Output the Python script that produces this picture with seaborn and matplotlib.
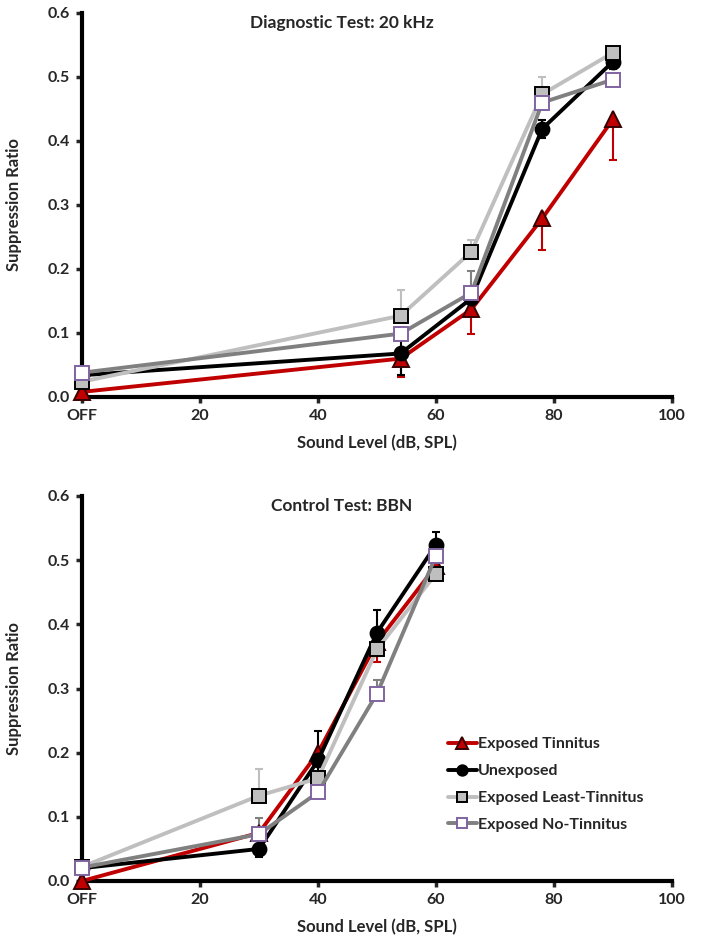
import numpy as np
import pandas as pd
import seaborn as sns
import matplotlib
matplotlib.use("Agg")
import matplotlib.pyplot as plt
import matplotlib.ticker as ticker

# ---- data ----
series_names = ["Exposed Tinnitus", "Unexposed", "Exposed Least-Tinnitus", "Exposed No-Tinnitus"]

# Diagnostic test: 20 kHz
top_levels = [0, 54, 66, 78, 90]
top_tinnitus = [0.008, 0.060, 0.137, 0.279, 0.434]
top_unexposed = [0.034, 0.068, 0.154, 0.419, 0.524]
top_least = [0.024, 0.127, 0.227, 0.473, 0.538]
top_none = [0.038, 0.099, 0.163, 0.460, 0.496]
top_tinnitus_err = [0.0, 0.028, 0.039, 0.049, 0.064]
top_unexposed_err = [0.004, 0.033, 0.008, 0.014, 0.012]
top_least_err = [0.004, 0.040, 0.018, 0.027, 0.004]
top_none_err = [0.004, 0.008, 0.034, 0.010, 0.006]

# Control test: BBN
bot_levels = [0, 30, 40, 50, 60]
bot_tinnitus = [0.000, 0.075, 0.200, 0.372, 0.491]
bot_unexposed = [0.020, 0.050, 0.188, 0.387, 0.524]
bot_least = [0.022, 0.133, 0.160, 0.361, 0.479]
bot_none = [0.021, 0.073, 0.138, 0.292, 0.507]
bot_tinnitus_err = [0.0, 0.005, 0.010, 0.031, 0.008]
bot_unexposed_err = [0.004, 0.012, 0.045, 0.036, 0.020]
bot_least_err = [0.004, 0.041, 0.010, 0.010, 0.006]
bot_none_err = [0.010, 0.025, 0.010, 0.022, 0.006]

x_ticks = [0, 20, 40, 60, 80, 100]
x_ticklabels = ["OFF", "20", "40", "60", "80", "100"]

# ---- styling ----
sns.set_style("white")
plt.rcParams["font.family"] = ["Lato", "DejaVu Sans"]
plt.rcParams["font.weight"] = "bold"

styles = {
    "Exposed Tinnitus": dict(color="#C00000", marker="^", mfc="#C00000", mec="#3a0000", ms=11, side="lower"),
    "Unexposed": dict(color="#000000", marker="o", mfc="#000000", mec="#000000", ms=10, side="both"),
    "Exposed Least-Tinnitus": dict(color="#BFBFBF", marker="s", mfc="#BFBFBF", mec="#000000", ms=10, side="upper"),
    "Exposed No-Tinnitus": dict(color="#808080", marker="s", mfc="#FFFFFF", mec="#8064A2", ms=10, side="upper"),
}


def draw_panel(ax, levels, values, errors, title):
    for name in series_names:
        st = styles[name]
        df = pd.DataFrame({"level": levels, "ratio": values[name]})
        err = np.array(errors[name])
        zero = np.zeros_like(err)
        if st["side"] == "lower":
            yerr = [err, zero]
        elif st["side"] == "upper":
            yerr = [zero, err]
        else:
            yerr = [err, err]
        ax.errorbar(levels, values[name], yerr=yerr, fmt="none", ecolor=st["color"],
                    elinewidth=1.5, capsize=3, capthick=1.5, zorder=2)
        sns.lineplot(data=df, x="level", y="ratio", ax=ax, color=st["color"], lw=2.8,
                     marker=st["marker"], markersize=st["ms"], markerfacecolor=st["mfc"],
                     markeredgecolor=st["mec"], markeredgewidth=1.4, label=name, zorder=3)

    ax.set_xlim(0, 100)
    ax.set_ylim(0, 0.6)
    ax.set_xticks(x_ticks)
    ax.set_xticklabels(x_ticklabels)
    ax.yaxis.set_major_locator(ticker.MultipleLocator(0.1))
    ax.yaxis.set_major_formatter(ticker.FormatStrFormatter("%.1f"))
    ax.set_xlabel("Sound Level (dB, SPL)", fontsize=12, fontweight="bold", labelpad=8)
    ax.set_ylabel("Suppression Ratio", fontsize=12, fontweight="bold", labelpad=18)
    ax.tick_params(axis="both", labelsize=11.5, width=2.5, length=4, direction="out",
                   left=True, bottom=True, pad=5)
    for lab in ax.get_xticklabels() + ax.get_yticklabels():
        lab.set_fontweight("bold")
    sns.despine(ax=ax)
    for side in ["left", "bottom"]:
        ax.spines[side].set_linewidth(3)
        ax.spines[side].set_color("black")
    for art in ax.lines + ax.collections:
        art.set_clip_on(False)
    ax.text(0.44, 0.975, title, transform=ax.transAxes, ha="center", va="center",
            fontsize=12.5, fontweight="bold")


fig = plt.figure(figsize=(7.14, 9.44), dpi=100)
ax1 = fig.add_axes([82 / 714, 1 - 397 / 944, 590 / 714, 384 / 944])
ax2 = fig.add_axes([82 / 714, 1 - 881 / 944, 590 / 714, 385 / 944])

top_values = dict(zip(series_names, [top_tinnitus, top_unexposed, top_least, top_none]))
top_errors = dict(zip(series_names, [top_tinnitus_err, top_unexposed_err, top_least_err, top_none_err]))
bot_values = dict(zip(series_names, [bot_tinnitus, bot_unexposed, bot_least, bot_none]))
bot_errors = dict(zip(series_names, [bot_tinnitus_err, bot_unexposed_err, bot_least_err, bot_none_err]))

draw_panel(ax1, top_levels, top_values, top_errors, "Diagnostic Test: 20 kHz")
draw_panel(ax2, bot_levels, bot_values, bot_errors, "Control Test: BBN")

ax1.get_legend().remove()
ax2.legend(loc="upper left", bbox_to_anchor=(448 / 714, 1 - 737 / 944), bbox_transform=fig.transFigure,
           frameon=False, borderpad=0, borderaxespad=0, handlelength=1.8, handletextpad=0.1,
           labelspacing=0.8, markerscale=0.75, prop={"size": 11.5, "weight": "bold"})

fig.savefig("out.png", dpi=100)
